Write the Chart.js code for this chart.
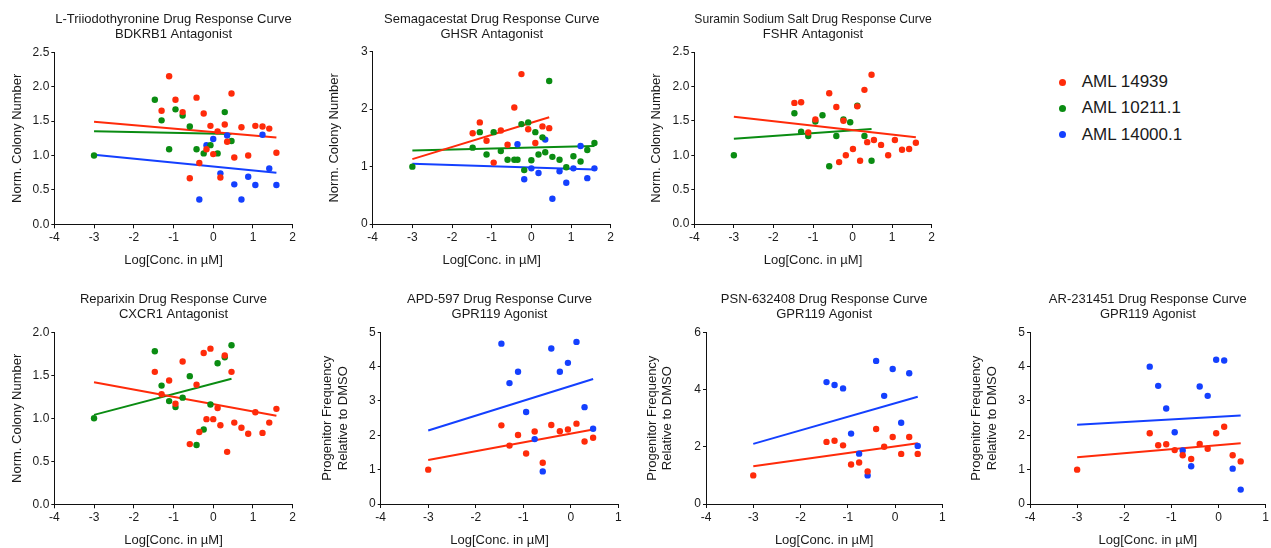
<!DOCTYPE html>
<html>
<head>
<meta charset="utf-8">
<script src="https://cdn.jsdelivr.net/npm/chart.js@4.4.1/dist/chart.umd.min.js"></script>
<style>
  html, body { margin: 0; padding: 0; background: #fff; }
  body { width: 1271px; height: 548px; position: relative; overflow: hidden; font-family: 'Liberation Sans', Arial, sans-serif; }
  .pc { position: absolute; }
  #legend { position: absolute; left: 1050px; top: 70px; }
  .li { position: absolute; left: 0; height: 24px; white-space: nowrap; }
  .dot { position: absolute; left: 8.8px; top: 8.5px; width: 7px; height: 7px; border-radius: 50%; }
  .lt { position: absolute; left: 31.7px; top: 0; line-height: 24px; font-size: 17px; color: #1a1a1a; }
</style>
</head>
<body>
<div id="legend"></div>
<script>
// ---------------- DATA ----------------
const SERIES_NAMES = ['AML 14939', 'AML 10211.1', 'AML 14000.1'];
const SERIES_COLORS = ['#FF2B0A', '#0A8C12', '#1440FF'];

const X_AXIS_TITLE = 'Log[Conc. in \u00B5M]';
const Y_TITLE_COLONY = 'Norm. Colony Number';
const Y_TITLE_PROG = ['Progenitor Frequency', 'Relative to DMSO'];

const X_TICKS_WIDE = [-4, -3, -2, -1, 0, 1, 2];
const X_TICKS_NARROW = [-4, -3, -2, -1, 0, 1];
const Y_TICKS_25 = [0, 0.5, 1.0, 1.5, 2.0, 2.5];
const Y_TICKS_3 = [0, 1, 2, 3];
const Y_TICKS_20 = [0, 0.5, 1.0, 1.5, 2.0];
const Y_TICKS_5 = [0, 1, 2, 3, 4, 5];
const Y_TICKS_6 = [0, 2, 4, 6];

// Panel 1: L-Triiodothyronine
const P1_RED_X = [-1.11,-1.30,-0.95,-0.77,-0.59,-0.42,-0.35,-0.24,-0.17,-0.07,0.00,0.11,0.18,0.29,0.35,0.46,0.53,0.71,0.88,1.06,1.24,1.41,1.59];
const P1_RED_Y = [2.15,1.65,1.81,1.63,0.67,1.84,0.89,1.61,1.09,1.43,1.02,1.35,0.68,1.45,1.20,1.90,0.97,1.41,1.00,1.43,1.42,1.39,1.04];
const P1_GREEN_X = [-3,-1.47,-1.30,-1.11,-0.95,-0.77,-0.59,-0.42,-0.24,-0.07,0.11,0.29,0.46];
const P1_GREEN_Y = [1.00,1.81,1.51,1.09,1.67,1.58,1.42,1.09,1.03,1.15,1.03,1.63,1.21];
const P1_BLUE_X = [-0.35,-0.17,0.00,0.18,0.35,0.53,0.71,0.88,1.06,1.24,1.41,1.59];
const P1_BLUE_Y = [0.36,1.15,1.24,0.74,1.29,0.58,0.36,0.69,0.57,1.30,0.81,0.57];
const P1_FIT_RED_X = [-3, 1.59];   const P1_FIT_RED_Y = [1.49, 1.26];
const P1_FIT_GREEN_X = [-3, 0.46]; const P1_FIT_GREEN_Y = [1.35, 1.31];
const P1_FIT_BLUE_X = [-3, 1.59];  const P1_FIT_BLUE_Y = [1.01, 0.75];

// Panel 2: Semagacestat
const P2_RED_X = [-1.48,-1.30,-1.13,-0.95,-0.77,-0.60,-0.43,-0.25,-0.08,0.10,0.28,0.45];
const P2_RED_Y = [1.58,1.77,1.45,1.07,1.63,1.38,2.03,2.61,1.65,1.41,1.70,1.67];
const P2_GREEN_X = [-3,-1.48,-1.30,-1.13,-0.95,-0.77,-0.60,-0.43,-0.35,-0.25,-0.18,-0.08,0.00,0.10,0.18,0.28,0.35,0.45,0.53,0.71,0.88,1.06,1.24,1.41,1.59];
const P2_GREEN_Y = [1.00,1.33,1.60,1.21,1.60,1.27,1.12,1.12,1.12,1.74,0.94,1.77,1.11,1.60,1.21,1.51,1.25,2.49,1.17,1.12,0.99,1.18,1.09,1.29,1.41];
const P2_BLUE_X = [-0.35,-0.18,0.00,0.18,0.35,0.53,0.71,0.88,1.06,1.24,1.41,1.59];
const P2_BLUE_Y = [1.39,0.78,0.97,0.89,1.47,0.44,0.92,0.72,0.97,1.36,0.80,0.97];
const P2_FIT_RED_X = [-3, 0.45];   const P2_FIT_RED_Y = [1.13, 1.86];
const P2_FIT_GREEN_X = [-3, 1.59]; const P2_FIT_GREEN_Y = [1.28, 1.36];
const P2_FIT_BLUE_X = [-3, 1.59];  const P2_FIT_BLUE_Y = [1.05, 0.95];

// Panel 3: Suramin Sodium Salt
const P3_RED_X = [-1.47,-1.30,-1.12,-0.94,-0.59,-0.41,-0.34,-0.23,-0.17,0.01,0.12,0.19,0.30,0.37,0.48,0.54,0.72,0.90,1.07,1.25,1.43,1.60];
const P3_RED_Y = [1.76,1.77,1.33,1.52,1.90,1.70,0.90,1.50,1.00,1.09,1.71,0.92,1.95,1.19,2.17,1.22,1.15,1.00,1.22,1.08,1.09,1.18];
const P3_GREEN_X = [-3,-1.47,-1.30,-1.12,-0.94,-0.76,-0.59,-0.41,-0.23,-0.06,0.12,0.30,0.48];
const P3_GREEN_Y = [1.00,1.61,1.34,1.28,1.49,1.58,0.84,1.28,1.52,1.48,1.72,1.28,0.92];
const P3_FIT_RED_X = [-3, 1.60];   const P3_FIT_RED_Y = [1.56, 1.26];
const P3_FIT_GREEN_X = [-3, 0.48]; const P3_FIT_GREEN_Y = [1.24, 1.38];

// Panel 4: Reparixin
const P4_RED_X = [-1.47,-1.30,-1.11,-0.95,-0.77,-0.59,-0.42,-0.35,-0.24,-0.17,-0.07,0.00,0.11,0.18,0.29,0.35,0.46,0.53,0.71,0.88,1.06,1.24,1.41,1.59];
const P4_RED_Y = [1.54,1.28,1.44,1.17,1.66,0.70,1.39,0.84,1.76,0.99,1.81,0.99,1.12,0.92,1.73,0.61,1.54,0.95,0.89,0.82,1.07,0.83,0.95,1.11];
const P4_GREEN_X = [-3,-1.47,-1.30,-1.11,-0.95,-0.77,-0.59,-0.42,-0.24,-0.07,0.11,0.29,0.46];
const P4_GREEN_Y = [1.00,1.78,1.38,1.20,1.13,1.24,1.49,0.69,0.87,1.16,1.64,1.71,1.85];
const P4_FIT_RED_X = [-3, 1.59];   const P4_FIT_RED_Y = [1.42, 1.03];
const P4_FIT_GREEN_X = [-3, 0.46]; const P4_FIT_GREEN_Y = [1.04, 1.46];

// Panel 5: APD-597
const P5_RED_X = [-3,-1.46,-1.29,-1.11,-0.94,-0.76,-0.59,-0.41,-0.23,-0.06,0.12,0.29,0.47];
const P5_RED_Y = [1.00,2.29,1.70,2.01,1.47,2.11,1.20,2.30,2.12,2.17,2.34,1.82,1.93];
const P5_BLUE_X = [-1.46,-1.29,-1.11,-0.94,-0.76,-0.59,-0.41,-0.23,-0.06,0.12,0.29,0.47];
const P5_BLUE_Y = [4.67,3.52,3.85,2.68,1.89,0.95,4.53,3.85,4.11,4.72,2.82,2.19];
const P5_FIT_RED_X = [-3, 0.47];  const P5_FIT_RED_Y = [1.28, 2.17];
const P5_FIT_BLUE_X = [-3, 0.47]; const P5_FIT_BLUE_Y = [2.14, 3.64];

// Panel 6: PSN-632408
const P6_RED_X = [-3,-1.45,-1.28,-1.10,-0.93,-0.76,-0.58,-0.40,-0.23,-0.05,0.13,0.30,0.48];
const P6_RED_Y = [1.00,2.17,2.21,2.05,1.38,1.45,1.14,2.62,2.00,2.34,1.75,2.34,1.75];
const P6_BLUE_X = [-1.45,-1.28,-1.10,-0.93,-0.76,-0.58,-0.40,-0.23,-0.05,0.13,0.30,0.48];
const P6_BLUE_Y = [4.26,4.16,4.04,2.46,1.76,1.00,5.00,3.78,4.72,2.84,4.57,2.03];
const P6_FIT_RED_X = [-3, 0.48];  const P6_FIT_RED_Y = [1.32, 2.12];
const P6_FIT_BLUE_X = [-3, 0.48]; const P6_FIT_BLUE_Y = [2.10, 3.75];

// Panel 7: AR-231451
const P7_RED_X = [-3,-1.46,-1.28,-1.11,-0.93,-0.76,-0.58,-0.40,-0.23,-0.05,0.12,0.30,0.47];
const P7_RED_Y = [1.00,2.06,1.71,1.74,1.57,1.42,1.31,1.75,1.61,2.06,2.25,1.42,1.24];
const P7_BLUE_X = [-1.46,-1.28,-1.11,-0.93,-0.76,-0.58,-0.40,-0.23,-0.05,0.12,0.30,0.47];
const P7_BLUE_Y = [4.00,3.44,2.78,2.09,1.56,1.10,3.42,3.15,4.20,4.18,1.03,0.42];
const P7_FIT_RED_X = [-3, 0.47];  const P7_FIT_RED_Y = [1.36, 1.77];
const P7_FIT_BLUE_X = [-3, 0.47]; const P7_FIT_BLUE_Y = [2.31, 2.58];

// ---------------- PANELS ----------------
const zip = (xs, ys) => xs.map((x, i) => ({x: x, y: ys[i]}));

const PANELS = [
  { title: ['L-Triiodothyronine Drug Response Curve', 'BDKRB1 Antagonist'], yTitle: Y_TITLE_COLONY,
    xTicks: X_TICKS_WIDE, yTicks: Y_TICKS_25, dec: 1,
    pts: [[0, P1_RED_X, P1_RED_Y], [1, P1_GREEN_X, P1_GREEN_Y], [2, P1_BLUE_X, P1_BLUE_Y]],
    fits: [[0, P1_FIT_RED_X, P1_FIT_RED_Y], [1, P1_FIT_GREEN_X, P1_FIT_GREEN_Y], [2, P1_FIT_BLUE_X, P1_FIT_BLUE_Y]],
    box: {cx: 0, cy: 0, w: 310, h: 280, pl: 54.3, pr: 292.7, pt: 52.2, pb: 224.3, yt: 17.3, tt: 19.2, xt: 260} },
  { title: ['Semagacestat Drug Response Curve', 'GHSR Antagonist'], yTitle: Y_TITLE_COLONY,
    xTicks: X_TICKS_WIDE, yTicks: Y_TICKS_3, dec: 0,
    pts: [[0, P2_RED_X, P2_RED_Y], [1, P2_GREEN_X, P2_GREEN_Y], [2, P2_BLUE_X, P2_BLUE_Y]],
    fits: [[0, P2_FIT_RED_X, P2_FIT_RED_Y], [1, P2_FIT_GREEN_X, P2_FIT_GREEN_Y], [2, P2_FIT_BLUE_X, P2_FIT_BLUE_Y]],
    box: {cx: 310, cy: 0, w: 320, h: 280, pl: 372.7, pr: 610.7, pt: 51.7, pb: 224.1, yt: 24.7, tt: 19.2, xt: 260} },
  { title: ['Suramin Sodium Salt Drug Response Curve', 'FSHR Antagonist'], yTitle: Y_TITLE_COLONY,
    xTicks: X_TICKS_WIDE, yTicks: Y_TICKS_25, dec: 1,
    pts: [[0, P3_RED_X, P3_RED_Y], [1, P3_GREEN_X, P3_GREEN_Y]],
    fits: [[0, P3_FIT_RED_X, P3_FIT_RED_Y], [1, P3_FIT_GREEN_X, P3_FIT_GREEN_Y]],
    box: {cx: 630, cy: 0, w: 330, h: 280, pl: 694.3, pr: 931.7, pt: 52, pb: 224, yt: 26.8, tt: 19.2, xt: 260} },
  { title: ['Reparixin Drug Response Curve', 'CXCR1 Antagonist'], yTitle: Y_TITLE_COLONY,
    xTicks: X_TICKS_WIDE, yTicks: Y_TICKS_20, dec: 1,
    pts: [[0, P4_RED_X, P4_RED_Y], [1, P4_GREEN_X, P4_GREEN_Y]],
    fits: [[0, P4_FIT_RED_X, P4_FIT_RED_Y], [1, P4_FIT_GREEN_X, P4_FIT_GREEN_Y]],
    box: {cx: 0, cy: 280, w: 310, h: 268, pl: 54.3, pr: 292.7, pt: 332.3, pb: 504.3, yt: 17.2, tt: 299.3, xt: 540} },
  { title: ['APD-597 Drug Response Curve', 'GPR119 Agonist'], yTitle: Y_TITLE_PROG,
    xTicks: X_TICKS_NARROW, yTicks: Y_TICKS_5, dec: 0,
    pts: [[0, P5_RED_X, P5_RED_Y], [2, P5_BLUE_X, P5_BLUE_Y]],
    fits: [[0, P5_FIT_RED_X, P5_FIT_RED_Y], [2, P5_FIT_BLUE_X, P5_FIT_BLUE_Y]],
    box: {cx: 310, cy: 280, w: 320, h: 268, pl: 380.7, pr: 618.3, pt: 332.3, pb: 504, yt: 17.7, tt: 299.3, xt: 540} },
  { title: ['PSN-632408 Drug Response Curve', 'GPR119 Agonist'], yTitle: Y_TITLE_PROG,
    xTicks: X_TICKS_NARROW, yTicks: Y_TICKS_6, dec: 0,
    pts: [[0, P6_RED_X, P6_RED_Y], [2, P6_BLUE_X, P6_BLUE_Y]],
    fits: [[0, P6_FIT_RED_X, P6_FIT_RED_Y], [2, P6_FIT_BLUE_X, P6_FIT_BLUE_Y]],
    box: {cx: 630, cy: 280, w: 320, h: 268, pl: 706, pr: 942.3, pt: 332.3, pb: 504, yt: 22.3, tt: 299.3, xt: 540} },
  { title: ['AR-231451 Drug Response Curve', 'GPR119 Agonist'], yTitle: Y_TITLE_PROG,
    xTicks: X_TICKS_NARROW, yTicks: Y_TICKS_5, dec: 0,
    pts: [[0, P7_RED_X, P7_RED_Y], [2, P7_BLUE_X, P7_BLUE_Y]],
    fits: [[0, P7_FIT_RED_X, P7_FIT_RED_Y], [2, P7_FIT_BLUE_X, P7_FIT_BLUE_Y]],
    box: {cx: 950, cy: 280, w: 321, h: 268, pl: 1030, pr: 1267.3, pt: 332.3, pb: 504, yt: 26.7, tt: 299.3, xt: 540} }
];

const FONT = "'Liberation Sans', Arial, Helvetica, sans-serif";
const TXT = '#1a1a1a';
const AXIS = '#111';

function buildPanel(p, idx) {
  const b = p.box;
  const c = document.createElement('canvas');
  c.className = 'pc';
  c.width = b.w; c.height = b.h;
  c.style.left = b.cx + 'px'; c.style.top = b.cy + 'px';
  c.style.width = b.w + 'px'; c.style.height = b.h + 'px';
  document.body.appendChild(c);

  const yw = b.pl - b.cx;                 // y-scale width
  const padR = b.cx + b.w - b.pr;         // right padding
  const plotBottomLocal = b.pb - b.cy;
  const xh = b.h - plotBottomLocal;       // x-scale height
  const titleLH = 15;
  const titlePadTop = (b.tt - b.cy) - titleLH / 2;
  const titlePadBottom = (b.pt - b.cy) - titlePadTop - 2 * titleLH;
  const axLH = 15.6;
  const xTitlePadBottom = Math.max(0, (b.cy + b.h - b.xt) - axLH / 2);
  const yTitlePadTop = Math.max(0, b.yt - axLH / 2);

  const datasets = [];
  p.pts.forEach(([s, xs, ys]) => {
    datasets.push({
      label: SERIES_NAMES[s], data: zip(xs, ys), showLine: false,
      pointRadius: 3.2, pointHoverRadius: 3.2, pointBorderWidth: 0,
      pointBackgroundColor: SERIES_COLORS[s], backgroundColor: SERIES_COLORS[s],
      borderColor: SERIES_COLORS[s], order: 0
    });
  });
  p.fits.forEach(([s, xs, ys]) => {
    datasets.push({
      label: SERIES_NAMES[s] + ' fit', data: zip(xs, ys), showLine: true,
      pointRadius: 0, pointHoverRadius: 0, borderWidth: 2,
      borderColor: SERIES_COLORS[s], backgroundColor: SERIES_COLORS[s],
      fill: false, tension: 0, order: 1
    });
  });

  const yMin = p.yTicks[0], yMax = p.yTicks[p.yTicks.length - 1];
  const xMin = p.xTicks[0], xMax = p.xTicks[p.xTicks.length - 1];

  new Chart(c.getContext('2d'), {
    type: 'scatter',
    data: { datasets },
    options: {
      responsive: false, animation: false, devicePixelRatio: 1,
      events: [],
      layout: { padding: {left: 0, right: padR, top: 0, bottom: 0}, autoPadding: false },
      plugins: {
        legend: { display: false },
        tooltip: { enabled: false },
        title: {
          display: true, text: p.title, fullSize: false, color: TXT,
          font: { family: FONT, size: 13, weight: 'normal', lineHeight: titleLH + 'px' },
          padding: { top: titlePadTop, bottom: titlePadBottom }
        }
      },
      scales: {
        x: {
          type: 'linear', min: xMin, max: xMax,
          afterBuildTicks: s => { s.ticks = p.xTicks.map(v => ({value: v})); },
          afterFit: s => { s.height = xh; },
          grid: { display: true, drawOnChartArea: false, drawTicks: true, tickLength: 4, color: AXIS, lineWidth: 1 },
          border: { display: true, color: AXIS, width: 1 },
          ticks: { color: TXT, padding: 2, maxRotation: 0, autoSkip: false,
            font: { family: FONT, size: 12 }, callback: v => String(v) },
          title: { display: true, text: X_AXIS_TITLE, color: TXT,
            font: { family: FONT, size: 13, lineHeight: 1.2 }, padding: { top: 0, bottom: xTitlePadBottom } }
        },
        y: {
          type: 'linear', min: yMin, max: yMax,
          afterBuildTicks: s => { s.ticks = p.yTicks.map(v => ({value: v})); },
          afterFit: s => { s.width = yw; },
          grid: { display: true, drawOnChartArea: false, drawTicks: true, tickLength: 3, color: AXIS, lineWidth: 1 },
          border: { display: true, color: AXIS, width: 1 },
          ticks: { color: TXT, padding: 2, autoSkip: false,
            font: { family: FONT, size: 12 }, callback: v => Number(v).toFixed(p.dec) },
          title: { display: true, text: p.yTitle, color: TXT,
            font: { family: FONT, size: 13, lineHeight: 1.2 }, padding: { top: yTitlePadTop, bottom: 0 } }
        }
      }
    }
  });
}

PANELS.forEach(buildPanel);

// legend
const lg = document.getElementById('legend');
SERIES_NAMES.forEach((n, i) => {
  const row = document.createElement('div');
  row.className = 'li';
  row.style.top = (i * 26.4) + 'px';
  const d = document.createElement('div');
  d.className = 'dot'; d.style.background = SERIES_COLORS[i];
  const t = document.createElement('div');
  t.className = 'lt'; t.textContent = n;
  row.appendChild(d); row.appendChild(t);
  lg.appendChild(row);
});
</script>
</body>
</html>
